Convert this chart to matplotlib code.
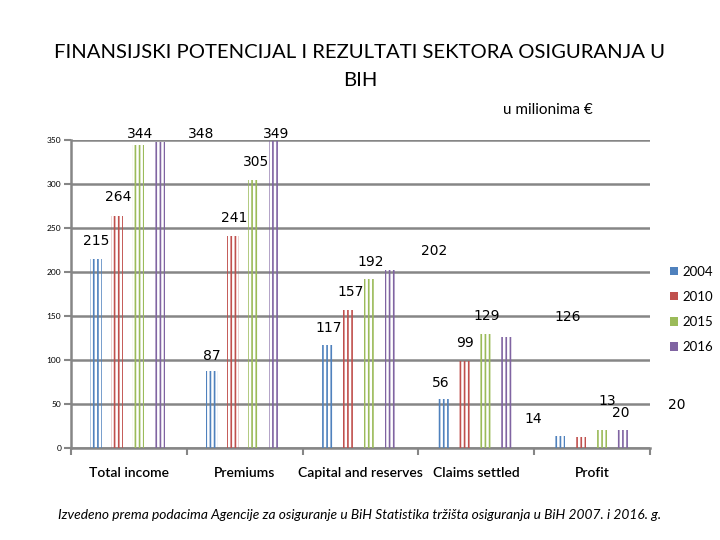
import matplotlib.pyplot as plt
from matplotlib.patches import Patch
import numpy as np

categories = ["Total income", "Premiums", "Capital and reserves", "Claims settled", "Profit"]
years = ["2004", "2010", "2015", "2016"]
v2004 = [215, 87, 117, 56, 14]
v2010 = [264, 241, 157, 99, 13]
v2015 = [344, 305, 192, 129, 20]
v2016 = [348, 349, 202, 126, 20]

# where the data labels sit, relative to the bar top (pixels)
off2004 = [(0, 18), (0, 15), (1, 17), (-3, 16), (-26, 17)]
off2010 = [(1, 19), (1, 18), (2, 18), (1, 18), (27, 36)]
off2015 = [(2, 11), (2, 18), (1, 17), (1, 18), (20, 17)]
off2016 = [(42, 8), (1, 7), (44, 19), (61, 20), (55, 25)]

colors = ["#4F81BD", "#C0504D", "#9BBB59", "#8064A2"]
grid_col = "#868686"

plt.rcParams['font.family'] = ['Lato', 'DejaVu Sans']
plt.rcParams['hatch.linewidth'] = 1.2

fig = plt.figure(figsize=(7.2, 5.4), dpi=100)
ax = fig.add_axes([71 / 720, 1 - 448 / 540, 579 / 720, 308 / 540])

x = np.arange(len(categories))
series = [v2004, v2010, v2015, v2016]
offsets = [off2004, off2010, off2015, off2016]
step = 0.181
for i, (vals, offs) in enumerate(zip(series, offsets)):
    xs = x + (i - 1.5) * step - 0.013
    ax.bar(xs, vals, width=0.1, facecolor='none', edgecolor=colors[i],
           linewidth=0, hatch='||||', zorder=3)
    for xi, v, (dx, dy) in zip(xs, vals, offs):
        ax.annotate(str(v), (xi, v), xytext=(dx, dy), textcoords='offset pixels',
                    ha='center', va='center', fontsize=10, color='black',
                    family=['DejaVu Sans'])

ax.set_xlim(-0.5, len(categories) - 0.5)
ax.set_ylim(0, 350)
ax.set_yticks(np.arange(0, 351, 50))
ax.tick_params(axis='y', labelsize=6, length=5, color=grid_col, width=1.5, pad=2)
ax.yaxis.grid(True, color=grid_col, linewidth=1.8, zorder=0)
ax.set_axisbelow(True)

ax.set_xticks(x)
ax.set_xticklabels(categories, fontsize=10, fontweight='semibold')
ax.tick_params(axis='x', length=0, pad=14)
ax.set_xticks(np.arange(-0.5, len(categories)), minor=True)
ax.tick_params(axis='x', which='minor', length=5, color=grid_col, width=1.5)

for s in ['top', 'right']:
    ax.spines[s].set_visible(False)
for s in ['left', 'bottom']:
    ax.spines[s].set_color(grid_col)
    ax.spines[s].set_linewidth(1.8)

handles = [Patch(facecolor=c, edgecolor='none') for c in colors]
ax.legend(handles, years, loc='center left', bbox_to_anchor=(1.025, 0.45),
          frameon=False, fontsize=9.5, handlelength=0.6, handleheight=0.6,
          handletextpad=0.35, labelspacing=1.0, borderaxespad=0)

fig.text(0.5, 1 - 52 / 540, "FINANSIJSKI POTENCIJAL I REZULTATI SEKTORA OSIGURANJA U",
         ha='center', va='center', fontsize=14.6)
fig.text(0.5, 1 - 80 / 540, "BIH", ha='center', va='center', fontsize=14.6)
fig.text(548 / 720, 1 - 110 / 540, "u milionima €", ha='center', va='center', fontsize=11)
fig.text(360 / 720, 1 - 515 / 540,
         "Izvedeno prema podacima Agencije za osiguranje u BiH Statistika tržišta osiguranja u BiH 2007. i 2016. g.",
         ha='center', va='center', fontsize=9.9, style='italic')

fig.savefig("out.png", dpi=100)
